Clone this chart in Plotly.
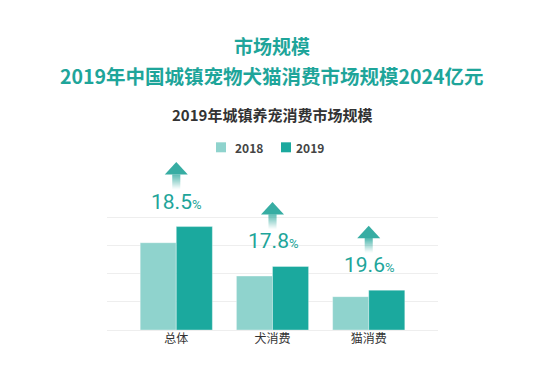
import plotly.graph_objects as go

categories = ["总体", "犬消费", "猫消费"]
values_2018 = [1708, 1056, 652]
values_2019 = [2024, 1244, 780]
growth_labels = ["18.5", "17.8", "19.6"]
series_names = ["2018", "2019"]
grid_values = [0, 550, 1100, 1650, 2200]

title_main = "市场规模"
title_sub = "2019年中国城镇宠物犬猫消费市场规模2024亿元"
chart_title = "2019年城镇养宠消费市场规模"

C18 = "#8fd3cd"
C19 = "#1ba99e"
TEAL = "#1ea59a"
CJK = "Noto Sans CJK SC"

W, H = 533, 388          # reference canvas
OFF = 8                  # page body margin in the browser
L, R = 107, 438          # plot area x pixels (reference coords)
GT, B = 217.7, 330.3     # top grid line / baseline pixels
T = 150                  # plot area top pixel (room for arrows)
YMAX = grid_values[-1] * (B - T) / (B - GT)


def px(x):
    return (x - L) / (R - L)


def py(y):
    return (B - y) / (B - T)


fig = go.Figure()
fig.add_bar(x=categories, y=values_2018, name=series_names[0], marker_color=C18,
            marker_line=dict(width=0.6, color="rgba(255,255,255,0.6)"), showlegend=False)
fig.add_bar(x=categories, y=values_2019, name=series_names[1], marker_color=C19,
            marker_line=dict(width=0.6, color="rgba(255,255,255,0.6)"), showlegend=False)

shapes = []
annotations = []

# arrows + growth labels
for i, (cat, v, g) in enumerate(zip(categories, values_2019, growth_labels)):
    base = dict(xref="x", yref="y", xsizemode="pixel", ysizemode="pixel",
                xanchor=i, yanchor=v, line=dict(width=0), layer="above")
    shapes.append(dict(base, type="path", path="M -11.5 52 L 0 64.5 L 11.5 52 Z",
                       fillcolor="#37ada3"))
    n = 15
    for k in range(n):
        top = 52 - k
        op = max(0.0, 1 - (k + 0.5) / n) ** 1.2
        shapes.append(dict(base, type="rect", x0=-4, x1=4, y0=top - 1.05, y1=top,
                           fillcolor="#37ada3", opacity=op))
    annotations.append(dict(
        x=i, y=v, xref="x", yref="y", yshift=25, showarrow=False,
        xanchor="center", yanchor="middle",
        text=f"{g}<span style='font-size:13px'>%</span>",
        font=dict(family="Roboto", size=21, color=TEAL),
    ))

# titles
for yy, txt, size, col in [(45, title_main, 19, TEAL), (75, title_sub, 19.5, TEAL),
                           (114, chart_title, 15, "#333333")]:
    annotations.append(dict(x=px(272), y=py(yy), xref="paper", yref="paper", showarrow=False,
                            xanchor="center", yanchor="middle",
                            text=f"<b>{txt}</b>", font=dict(family=CJK, size=size, color=col)))

# legend (manual)
for sx, tx, col, name in [(216, 233, C18, series_names[0]), (281, 294, C19, series_names[1])]:
    shapes.append(dict(type="rect", xref="paper", yref="paper", x0=px(sx), x1=px(sx + 10),
                       y0=py(152.3), y1=py(142.3), fillcolor=col, line=dict(width=0)))
    annotations.append(dict(x=px(tx), y=py(147.3), xref="paper", yref="paper", showarrow=False,
                            xanchor="left", yanchor="middle", text=f"<b>{name}</b>",
                            font=dict(family=CJK, size=12, color="#444444")))

fig.update_layout(
    width=W - OFF, height=H - OFF,
    margin=dict(l=L - OFF, r=W - R, t=T - OFF, b=H - B, pad=0, autoexpand=False),
    paper_bgcolor="white", plot_bgcolor="white",
    barmode="group", bargap=0.25, bargroupgap=0,
    shapes=shapes, annotations=annotations,
    showlegend=False,
    xaxis=dict(range=[-0.72, 2.72], showgrid=False, zeroline=False, showline=False,
               ticks="", tickfont=dict(family=CJK, size=12, color="#333333"), automargin=False),
    yaxis=dict(range=[0, YMAX], tickmode="array", tickvals=grid_values,
               showticklabels=False, ticks="", automargin=False,
               showgrid=True, gridcolor="#eeeeee", gridwidth=1.2,
               zeroline=True, zerolinecolor="#eeeeee", zerolinewidth=1.2, showline=False),
)

fig.write_html("out.html")
